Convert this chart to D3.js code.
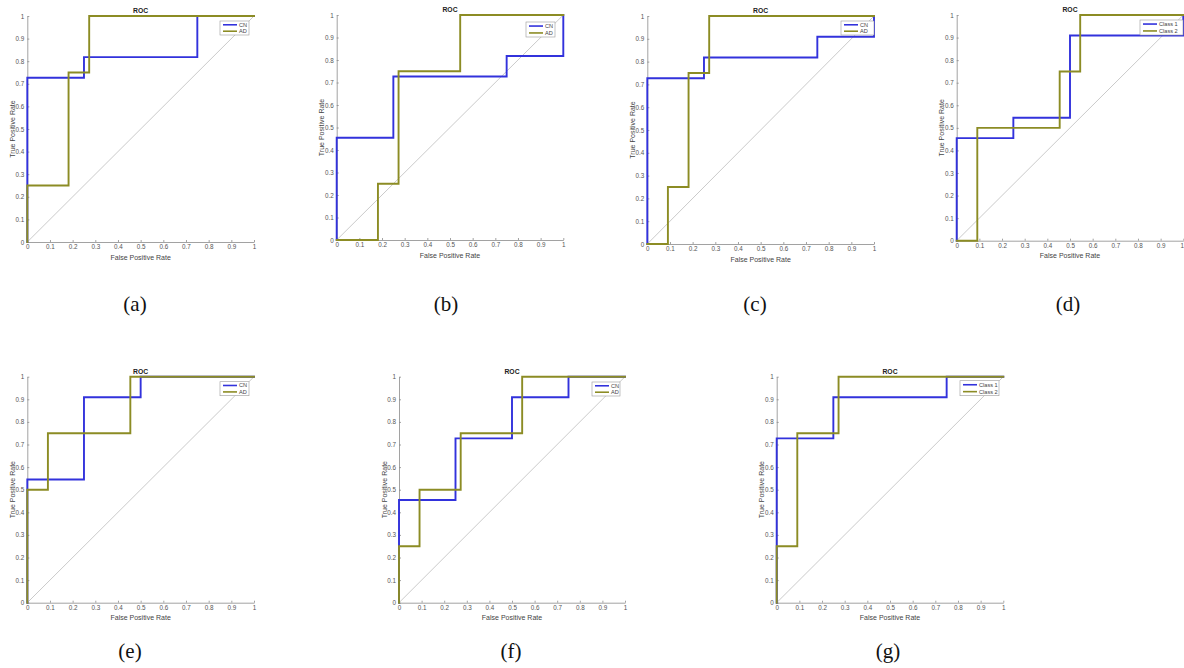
<!DOCTYPE html>
<html>
<head>
<meta charset="utf-8">
<script src="https://cdn.jsdelivr.net/npm/d3@7"></script>
<style>
  html, body { margin: 0; padding: 0; background: #fff; }
  svg { display: block; }
</style>
</head>
<body>
<svg id="chart" width="1184" height="668"></svg>
<script>
// ---------- data ----------
const tickValues = [0, 0.1, 0.2, 0.3, 0.4, 0.5, 0.6, 0.7, 0.8, 0.9, 1];
const tickLabels = ["0", "0.1", "0.2", "0.3", "0.4", "0.5", "0.6", "0.7", "0.8", "0.9", "1"];
const panelCaptions = ["(a)", "(b)", "(c)", "(d)", "(e)", "(f)", "(g)"];
const seriesNamesCN = ["CN", "AD"];
const seriesNamesClass = ["Class 1", "Class 2"];
const diagonal = [[0, 0], [1, 1]];

// each: [FPR, TPR]
const aCN = [[0,0],[0,0.727],[0.25,0.727],[0.25,0.818],[0.75,0.818],[0.75,1],[1,1]];
const aAD = [[0,0],[0,0.25],[0.182,0.25],[0.182,0.75],[0.273,0.75],[0.273,1],[1,1]];

const bCN = [[0,0],[0,0.4545],[0.25,0.4545],[0.25,0.727],[0.75,0.727],[0.75,0.818],[1,0.818],[1,1]];
const bAD = [[0,0],[0.182,0],[0.182,0.25],[0.273,0.25],[0.273,0.75],[0.545,0.75],[0.545,1],[1,1]];

const cCN = [[0,0],[0,0.727],[0.25,0.727],[0.25,0.818],[0.75,0.818],[0.75,0.909],[1,0.909],[1,1]];
const cAD = [[0,0],[0.0909,0],[0.0909,0.25],[0.182,0.25],[0.182,0.75],[0.273,0.75],[0.273,1],[1,1]];

const dC1 = [[0,0],[0,0.4545],[0.25,0.4545],[0.25,0.545],[0.5,0.545],[0.5,0.909],[1,0.909],[1,1]];
const dC2 = [[0,0],[0.0909,0],[0.0909,0.5],[0.4545,0.5],[0.4545,0.75],[0.545,0.75],[0.545,1],[1,1]];

const eCN = [[0,0],[0,0.545],[0.25,0.545],[0.25,0.909],[0.5,0.909],[0.5,1],[1,1]];
const eAD = [[0,0],[0,0.5],[0.0909,0.5],[0.0909,0.75],[0.4545,0.75],[0.4545,1],[1,1]];

const fCN = [[0,0],[0,0.4545],[0.25,0.4545],[0.25,0.727],[0.5,0.727],[0.5,0.909],[0.75,0.909],[0.75,1],[1,1]];
const fAD = [[0,0],[0,0.25],[0.0909,0.25],[0.0909,0.5],[0.273,0.5],[0.273,0.75],[0.545,0.75],[0.545,1],[1,1]];

const gC1 = [[0,0],[0,0.727],[0.25,0.727],[0.25,0.909],[0.75,0.909],[0.75,1],[1,1]];
const gC2 = [[0,0],[0,0.25],[0.0909,0.25],[0.0909,0.75],[0.273,0.75],[0.273,1],[1,1]];

const panelSeries = [[aCN, aAD], [bCN, bAD], [cCN, cAD], [dC1, dC2], [eCN, eAD], [fCN, fAD], [gC1, gC2]];
const panelNames = [seriesNamesCN, seriesNamesCN, seriesNamesCN, seriesNamesClass, seriesNamesCN, seriesNamesCN, seriesNamesClass];

// ---------- layout (pixel geometry) ----------
const layout = [
  { x0: 27.3,  x1: 254,    y0: 242,   y1: 16,    leg: [220, 21, 29, 14],   cap: [135, 304] },
  { x0: 336.7, x1: 563.3,  y0: 240,   y1: 15,    leg: [526, 22, 29, 15],   cap: [446, 304] },
  { x0: 647.3, x1: 874,    y0: 244,   y1: 16,    leg: [841, 21, 33, 14],   cap: [755, 304] },
  { x0: 956.7, x1: 1183.3, y0: 240.7, y1: 15,    leg: [1140, 20, 43, 15],  cap: [1068, 304] },
  { x0: 27.3,  x1: 254,    y0: 602.7, y1: 376.7, leg: [220, 381.7, 29, 14], cap: [130, 651] },
  { x0: 399,   x1: 625,    y0: 602.7, y1: 376.7, leg: [592, 382, 28, 14],  cap: [511, 651] },
  { x0: 776.7, x1: 1003.3, y0: 602.7, y1: 376.7, leg: [960, 380.7, 39, 15], cap: [888, 651] }
];

const colors = ["#3232dc", "#8c8c24"];
const svg = d3.select("#chart");
const font = "'Liberation Sans', Arial, Helvetica, sans-serif";
const W = 1184;

layout.forEach((L, i) => {
  const x = d3.scaleLinear().domain([0, 1]).range([L.x0, L.x1]);
  const y = d3.scaleLinear().domain([0, 1]).range([L.y0, L.y1]);
  const g = svg.append("g");

  const fmt = d => tickLabels[tickValues.indexOf(d)];

  const xAxis = g.append("g").attr("transform", `translate(0,${L.y0})`)
    .call(d3.axisBottom(x).tickValues(tickValues).tickFormat(fmt).tickSizeInner(-2).tickSizeOuter(0).tickPadding(3));
  const yAxis = g.append("g").attr("transform", `translate(${L.x0},0)`)
    .call(d3.axisLeft(y).tickValues(tickValues).tickFormat(fmt).tickSizeInner(-2).tickSizeOuter(0).tickPadding(3));
  [xAxis, yAxis].forEach(a => {
    a.select(".domain").attr("stroke", "#8a8a8a").attr("stroke-width", 0.8);
    a.selectAll(".tick line").attr("stroke", "#8a8a8a").attr("stroke-width", 0.8);
    a.selectAll(".tick text").attr("fill", "#555").attr("font-size", 6.3).attr("font-family", font);
  });
  // keep a label that would run past the page edge inside it
  xAxis.selectAll(".tick text").each(function (d) {
    if (x(d) + 3 > W) d3.select(this).attr("text-anchor", "end").attr("x", W - 0.5 - x(d));
  });

  // diagonal
  const line = d3.line().x(d => x(d[0])).y(d => y(d[1]));
  g.append("path").datum(diagonal).attr("d", line)
    .attr("fill", "none").attr("stroke", "#c4c4c4").attr("stroke-width", 0.9);

  // series
  panelSeries[i].forEach((s, k) => {
    g.append("path").datum(s).attr("d", line)
      .attr("fill", "none").attr("stroke", colors[k]).attr("stroke-width", 1.9)
      .attr("stroke-linejoin", "miter").attr("stroke-linecap", "square");
  });

  // title
  g.append("text").attr("x", (L.x0 + L.x1) / 2).attr("y", L.y1 - 3)
    .attr("text-anchor", "middle").attr("font-family", font).attr("font-weight", "bold")
    .attr("font-size", 6.8).attr("fill", "#222").text("ROC");

  // axis labels
  g.append("text").attr("x", (L.x0 + L.x1) / 2).attr("y", L.y0 + 17.5)
    .attr("text-anchor", "middle").attr("font-family", font)
    .attr("font-size", 7).attr("fill", "#444").text("False Positive Rate");
  g.append("text")
    .attr("transform", `translate(${L.x0 - 12.5},${(L.y0 + L.y1) / 2}) rotate(-90)`)
    .attr("text-anchor", "middle").attr("font-family", font)
    .attr("font-size", 7).attr("fill", "#444").text("True Positive Rate");

  // legend
  const [lx, ly, lw, lh] = L.leg;
  const lg = g.append("g");
  lg.append("rect").attr("x", lx).attr("y", ly).attr("width", lw).attr("height", lh)
    .attr("fill", "#fff").attr("stroke", "#9a9a9a").attr("stroke-width", 0.6);
  panelNames[i].forEach((name, k) => {
    const ry = ly + lh * (0.27 + 0.46 * k);
    lg.append("line").attr("x1", lx + 3).attr("x2", lx + 17).attr("y1", ry).attr("y2", ry)
      .attr("stroke", colors[k]).attr("stroke-width", 1.6);
    lg.append("text").attr("x", lx + 19).attr("y", ry).attr("dy", "0.35em")
      .attr("font-family", font).attr("font-size", 5.6).attr("fill", "#444").text(name);
  });

  // caption
  svg.append("text").attr("x", L.cap[0]).attr("y", L.cap[1]).attr("dy", "0.35em")
    .attr("text-anchor", "middle").attr("font-family", "'Liberation Serif', 'Times New Roman', serif")
    .attr("font-size", 21).attr("fill", "#111").text(panelCaptions[i]);
});
</script>
</body>
</html>
